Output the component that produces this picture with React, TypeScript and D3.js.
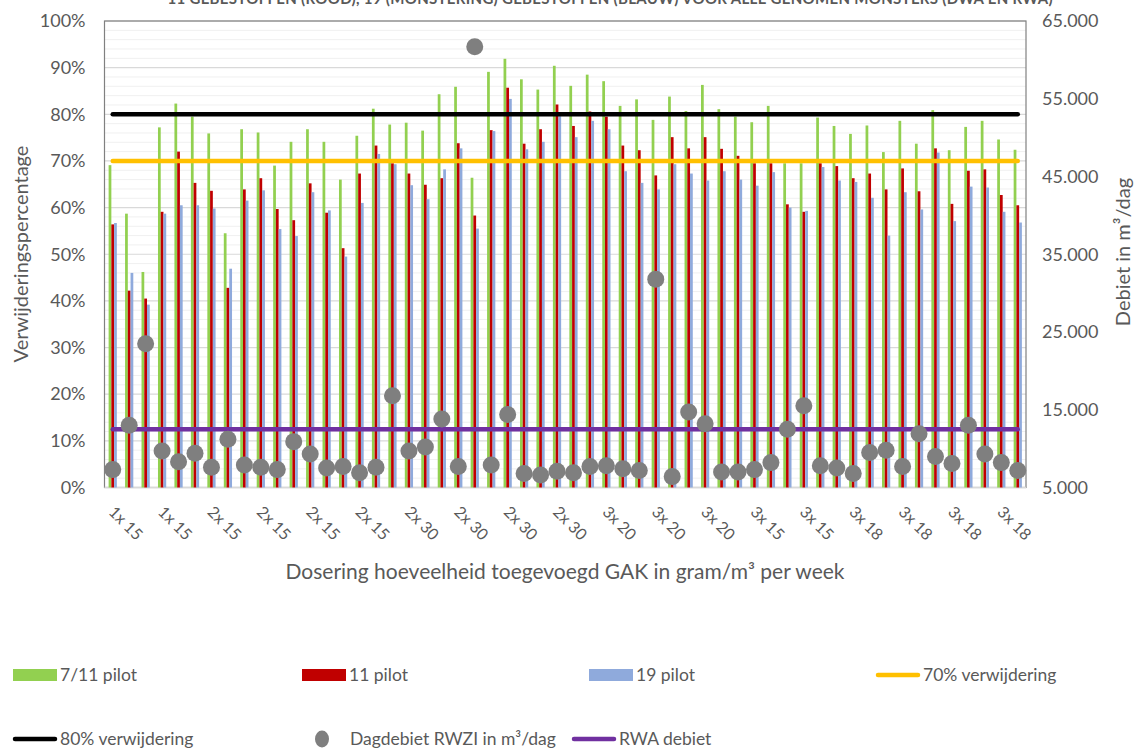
import React, { useEffect, useRef } from "react";
import * as d3 from "d3";

// categorie per week (alleen elke 3e wordt als label getoond)
const dosering = [
  "1x 15", "1x 15", "1x 15", "1x 15", "1x 15", "1x 15",
  "2x 15", "2x 15", "2x 15", "2x 15", "2x 15", "2x 15",
  "2x 15", "2x 15", "2x 15", "2x 15", "2x 15", "2x 15",
  "2x 30", "2x 30", "2x 30", "2x 30", "2x 30", "2x 30",
  "2x 30", "2x 30", "2x 30", "2x 30", "2x 30", "2x 30",
  "3x 20", "3x 20", "3x 20", "3x 20", "3x 20", "3x 20",
  "3x 20", "3x 20", "3x 20", "3x 15", "3x 15", "3x 15",
  "3x 15", "3x 15", "3x 15", "3x 18", "3x 18", "3x 18",
  "3x 18", "3x 18", "3x 18", "3x 18", "3x 18", "3x 18",
  "3x 18", "3x 18",
];

const pilot711 = [
  69.1, 58.7, 46.2, 77.2, 82.3, 79.5, 75.9, 54.5, 76.8, 76.1,
  69.0, 74.1, 76.8, 74.1, 66.0, 75.4, 81.2, 77.8, 78.2, 76.5,
  84.3, 85.9, 66.4, 89.1, 91.9, 87.5, 85.3, 90.4, 86.1, 88.5,
  87.1, 81.8, 83.2, 78.8, 83.8, 80.7, 86.3, 81.1, 79.5, 78.3,
  81.8, 69.5, 69.5, 79.3, 77.5, 75.8, 77.6, 71.9, 78.6, 73.7,
  80.9, 72.3, 77.3, 78.6, 74.6, 72.4,
];

const pilot11 = [
  56.4, 42.2, 40.5, 59.1, 72.0, 65.3, 63.6, 42.8, 63.9, 66.3,
  59.7, 57.3, 65.2, 58.9, 51.3, 67.3, 73.3, 69.5, 67.3, 64.9,
  66.3, 73.8, 58.3, 76.6, 85.7, 73.7, 76.8, 82.1, 77.5, 80.6,
  79.5, 73.3, 72.3, 66.9, 75.1, 72.7, 75.1, 72.6, 71.1, 69.5,
  69.5, 60.7, 59.1, 69.5, 68.9, 66.3, 67.3, 63.9, 68.4, 63.5,
  72.7, 60.8, 67.9, 68.2, 62.7, 60.5,
];

const pilot19 = [
  56.7, 46.0, 39.2, 58.7, 60.5, 60.5, 59.8, 46.9, 61.5, 63.7,
  55.4, 53.9, 63.3, 59.4, 49.5, 61.0, 71.5, 69.3, 64.8, 61.8,
  68.2, 72.7, 55.5, 76.4, 83.3, 72.5, 74.1, 79.6, 75.1, 78.6,
  76.8, 67.8, 65.3, 63.9, 69.3, 67.3, 65.8, 67.8, 66.0, 64.7,
  67.6, 60.0, 59.3, 68.7, 65.8, 65.5, 62.1, 54.0, 63.3, 59.6,
  71.8, 57.1, 64.5, 64.3, 59.1, 56.8,
];

const dagdebiet = [
  7300, 13000, 23500, 9700, 8300, 9400, 7600, 11200, 7900, 7600,
  7300, 10900, 9300, 7500, 7700, 6900, 7600, 16800, 9700, 10200,
  13800, 7700, 61700, 7900, 14400, 6800, 6600, 7100, 6900, 7700,
  7800, 7400, 7200, 31800, 6400, 14700, 13200, 7000, 7000, 7300,
  8200, 12500, 15500, 7800, 7500, 6800, 9500, 9800, 7700, 11900,
  9000, 8100, 13000, 9300, 8200, 7200,
];

const norm70 = 70;
const norm80 = 80;
const rwaDebiet = 12500;

const pctTicks = [0, 10, 20, 30, 40, 50, 60, 70, 80, 90, 100];
const debietTicks = [5000, 15000, 25000, 35000, 45000, 55000, 65000];

const FONT = "Lato, 'Open Sans', sans-serif";
const GREY = "#595959";

function Chart() {
  const ref = useRef<SVGSVGElement>(null);

  useEffect(() => {
    const svg = d3.select(ref.current);
    svg.selectAll("*").remove();

    const left = 104.5;
    const right = 1026;
    const top = 21;
    const bottom = 487.5;

    const idx = dosering.map((_, i) => i);
    const x = d3
      .scaleBand<number>()
      .domain(idx)
      .range([left, right])
      .paddingInner(0.5)
      .paddingOuter(0.25);
    const xSub = d3
      .scaleBand<string>()
      .domain(["g", "r", "b"])
      .range([0, x.bandwidth()]);
    const cx = (i: number) => (x(i) as number) + x.bandwidth() / 2;

    const y = d3.scaleLinear().domain([0, 100]).range([bottom, top]);
    const y2 = d3.scaleLinear().domain([5000, 65000]).range([bottom, top]);

    // titel (bovenkant valt buiten beeld, net als in het origineel)
    svg
      .append("text")
      .attr("x", 610)
      .attr("y", 4)
      .attr("text-anchor", "middle")
      .attr("font-family", FONT)
      .attr("font-size", 15)
      .attr("font-weight", "bold")
      .attr("fill", GREY)
      .attr("textLength", 885)
      .text(
        "11 GEBESTOFFEN (ROOD), 19 (MONSTERING) GEBESTOFFEN (BLAUW) VOOR ALLE GENOMEN MONSTERS (DWA EN RWA)"
      );

    // gridlijnen
    const minor = d3.range(0, 101, 2).filter((d) => d % 10 !== 0);
    svg
      .append("g")
      .selectAll("line")
      .data(minor)
      .join("line")
      .attr("x1", left)
      .attr("x2", right)
      .attr("y1", (d) => y(d))
      .attr("y2", (d) => y(d))
      .attr("stroke", "#f0f0f0")
      .attr("stroke-width", 1);
    svg
      .append("g")
      .selectAll("line")
      .data(pctTicks)
      .join("line")
      .attr("x1", left)
      .attr("x2", right)
      .attr("y1", (d) => y(d))
      .attr("y2", (d) => y(d))
      .attr("stroke", "#d9d9d9")
      .attr("stroke-width", 1.2);

    // rand van het plotgebied
    svg
      .append("rect")
      .attr("x", left)
      .attr("y", top)
      .attr("width", right - left)
      .attr("height", bottom - top)
      .attr("fill", "none")
      .attr("stroke", "#808080")
      .attr("stroke-width", 1.2);
    svg
      .append("line")
      .attr("x1", left)
      .attr("x2", right)
      .attr("y1", bottom)
      .attr("y2", bottom)
      .attr("stroke", "#d9d9d9")
      .attr("stroke-width", 1.5);

    // staven
    const series = [
      { key: "g", values: pilot711, color: "#92d050" },
      { key: "r", values: pilot11, color: "#c00000" },
      { key: "b", values: pilot19, color: "#8faadc" },
    ];
    series.forEach((s) => {
      svg
        .append("g")
        .selectAll("rect")
        .data(s.values)
        .join("rect")
        .attr("x", (_, i) => (x(i) as number) + (xSub(s.key) as number))
        .attr("width", xSub.bandwidth())
        .attr("y", (d) => y(d))
        .attr("height", (d) => bottom - y(d))
        .attr("fill", s.color);
    });

    // horizontale lijnen
    const hline = (scale: d3.ScaleLinear<number, number>, v: number, color: string) => {
      const line = d3
        .line<number>()
        .x((i) => cx(i))
        .y(() => scale(v));
      svg
        .append("path")
        .attr("d", line(idx))
        .attr("fill", "none")
        .attr("stroke", color)
        .attr("stroke-width", 4.5)
        .attr("stroke-linecap", "round");
    };
    hline(y, norm80, "#000000");
    hline(y, norm70, "#ffc000");
    hline(y2, rwaDebiet, "#7030a0");

    // dagdebiet punten
    svg
      .append("g")
      .selectAll("circle")
      .data(dagdebiet)
      .join("circle")
      .attr("cx", (_, i) => cx(i))
      .attr("cy", (d) => y2(d))
      .attr("r", 8.5)
      .attr("fill", "#7f7f7f");

    // linker as
    const yAxis = svg
      .append("g")
      .attr("transform", `translate(${left - 19},0)`)
      .call(
        d3
          .axisLeft(y)
          .tickValues(pctTicks)
          .tickFormat((d) => d + "%")
          .tickSize(0)
          .tickPadding(0)
      );
    yAxis.select(".domain").remove();
    yAxis
      .selectAll("text")
      .attr("font-family", FONT)
      .attr("font-size", 18)
      .attr("fill", GREY);

    // rechter as
    const nl = d3.formatLocale({
      decimal: ",",
      thousands: ".",
      grouping: [3],
      currency: ["€", ""],
    });
    const y2Axis = svg
      .append("g")
      .attr("transform", `translate(${right + 16},0)`)
      .call(
        d3
          .axisRight(y2)
          .tickValues(debietTicks)
          .tickFormat((d) => nl.format(",")(d as number))
          .tickSize(0)
          .tickPadding(0)
      );
    y2Axis.select(".domain").remove();
    y2Axis
      .selectAll("text")
      .attr("font-family", FONT)
      .attr("font-size", 18)
      .attr("fill", GREY);

    // categorie labels (schuin)
    svg
      .append("g")
      .selectAll("text")
      .data(idx.filter((i) => i % 3 === 0))
      .join("text")
      .attr("transform", (i) => `translate(${cx(i) - 5},513) rotate(45)`)
      .attr("font-family", FONT)
      .attr("font-size", 16)
      .attr("fill", GREY)
      .text((i) => dosering[i]);

    // as titels
    svg
      .append("text")
      .attr("x", 565)
      .attr("y", 579)
      .attr("text-anchor", "middle")
      .attr("font-family", FONT)
      .attr("font-size", 21)
      .attr("fill", GREY)
      .text("Dosering hoeveelheid toegevoegd GAK in gram/m³ per week");
    svg
      .append("text")
      .attr("transform", "translate(28,254) rotate(-90)")
      .attr("text-anchor", "middle")
      .attr("font-family", FONT)
      .attr("font-size", 20)
      .attr("fill", GREY)
      .text("Verwijderingspercentage");
    svg
      .append("text")
      .attr("transform", "translate(1130,252) rotate(-90)")
      .attr("text-anchor", "middle")
      .attr("font-family", FONT)
      .attr("font-size", 20)
      .attr("fill", GREY)
      .text("Debiet in m³/dag");

    // legenda
    const legend = [
      { label: "7/11 pilot", type: "rect", color: "#92d050", x: 13, y: 675 },
      { label: "11 pilot", type: "rect", color: "#c00000", x: 302, y: 675 },
      { label: "19 pilot", type: "rect", color: "#8faadc", x: 589, y: 675 },
      { label: "70% verwijdering", type: "line", color: "#ffc000", x: 876, y: 675 },
      { label: "80% verwijdering", type: "line", color: "#000000", x: 13, y: 739 },
      { label: "Dagdebiet RWZI in m³/dag", type: "dot", color: "#7f7f7f", x: 302, y: 739 },
      { label: "RWA debiet", type: "line", color: "#7030a0", x: 572, y: 739 },
    ];
    legend.forEach((l) => {
      const row = svg.append("g").attr("transform", `translate(${l.x},${l.y})`);
      if (l.type === "rect") {
        row
          .append("rect")
          .attr("x", 0)
          .attr("y", -6)
          .attr("width", 44)
          .attr("height", 12)
          .attr("fill", l.color);
      } else if (l.type === "line") {
        row
          .append("line")
          .attr("x1", 2)
          .attr("x2", 42)
          .attr("y1", 0)
          .attr("y2", 0)
          .attr("stroke", l.color)
          .attr("stroke-width", 4.5)
          .attr("stroke-linecap", "round");
      } else {
        row
          .append("ellipse")
          .attr("cx", 20)
          .attr("cy", 0)
          .attr("rx", 7)
          .attr("ry", 8.5)
          .attr("fill", l.color);
      }
      row
        .append("text")
        .attr("x", l.type === "dot" ? 48 : 47)
        .attr("y", 0)
        .attr("dy", "0.35em")
        .attr("font-family", FONT)
        .attr("font-size", 17.5)
        .attr("fill", GREY)
        .text(l.label);
    });
  }, []);

  return (
    <svg
      ref={ref}
      width={1134}
      height={749}
      style={{ position: "absolute", left: 0, top: 0, background: "#fff" }}
    />
  );
}

export default function App() {
  return <Chart />;
}
